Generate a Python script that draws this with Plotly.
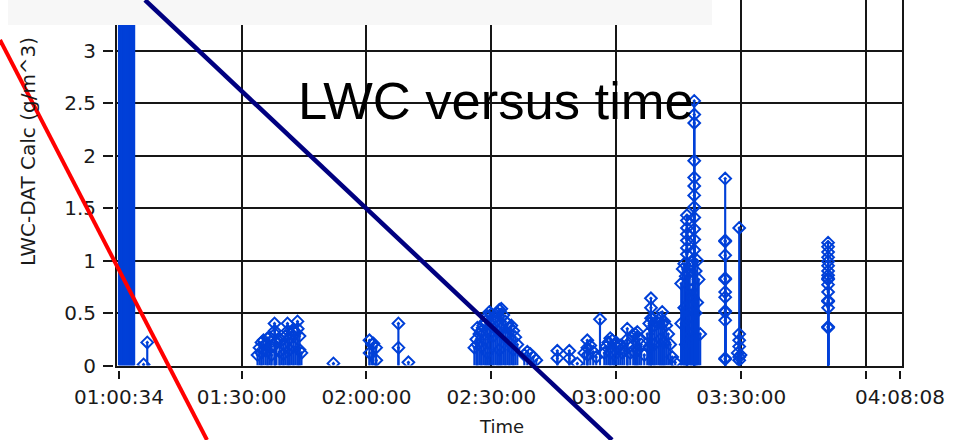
import plotly.graph_objects as go

# ---- data: LWC-DAT calculated liquid water content (g/m^3) against time ----
times = [
    # instrument start-up block (off scale)
    "01:00:34", "01:00:44", "01:00:54", "01:01:04", "01:01:14", "01:01:24",
    "01:01:34", "01:01:44", "01:01:54", "01:02:04", "01:02:14", "01:02:24",
    "01:02:34", "01:02:44", "01:02:54", "01:03:04", "01:03:14", "01:03:24",
    "01:03:34", "01:03:44", "01:03:54", "01:04:04", "01:04:12",
    "01:06:28", "01:07:21",
    # first cloud pass
    "01:33:50", "01:34:19", "01:34:47", "01:35:16", "01:35:45", "01:36:14",
    "01:36:43", "01:37:11", "01:37:55", "01:37:58", "01:38:02", "01:38:23",
    "01:39:07", "01:39:35", "01:40:04", "01:40:33", "01:41:02", "01:41:05",
    "01:41:31", "01:41:59", "01:42:28", "01:42:57", "01:43:26", "01:43:29",
    "01:43:55", "01:44:23",
    "01:34:47", "01:36:14", "01:37:11", "01:39:07", "01:40:04", "01:41:31",
    "01:42:28", "01:43:55",
    "01:52:04",
    "02:00:43", "02:00:45", "02:01:21", "02:01:40", "02:02:19", "02:02:21",
    "02:07:40", "02:07:41", "02:10:04",
    # second cloud pass
    "02:25:55", "02:26:23", "02:26:38", "02:27:07", "02:27:35", "02:28:04",
    "02:28:33", "02:29:02", "02:29:31", "02:29:59", "02:30:28", "02:30:57",
    "02:31:26", "02:31:55", "02:32:23", "02:32:52", "02:33:21", "02:33:50",
    "02:34:19", "02:34:47", "02:35:16", "02:35:45", "02:36:14",
    "02:26:38", "02:27:35", "02:28:33", "02:29:31", "02:30:28", "02:31:26",
    "02:32:23", "02:33:21", "02:34:19", "02:35:16", "02:29:02", "02:31:55",
    "02:37:55", "02:38:38", "02:39:21", "02:40:04", "02:40:47",
    "02:45:50", "02:45:51", "02:48:43", "02:48:44", "02:50:38",
    "02:52:19", "02:53:02", "02:53:03", "02:53:04", "02:53:45", "02:54:28",
    "02:55:11", "02:56:05",
    "02:57:07", "02:57:35", "02:58:04", "02:58:33", "02:59:02", "02:59:31",
    "02:59:59", "03:00:28", "03:00:57", "03:01:26", "03:01:55",
    "03:02:38", "03:02:39", "03:02:40", "03:03:21", "03:04:04", "03:04:33",
    "03:05:02", "03:05:31", "03:05:59", "03:06:43", "03:07:26", "03:07:55",
    "03:08:19", "03:08:20", "03:08:21", "03:08:38", "03:09:07", "03:09:35",
    "03:10:04", "03:10:33", "03:11:02", "03:11:03", "03:11:31", "03:11:59",
    "03:12:28", "03:12:57", "03:13:26", "03:14:09",
    "02:58:33", "02:59:31", "03:04:33", "03:05:02", "03:07:55", "03:09:07",
    "03:10:33", "03:11:31",
    # main cloud
    "03:15:35", "03:15:57", "03:16:19", "03:16:40",
    "03:16:58", "03:16:58", "03:16:58", "03:16:58", "03:16:58", "03:16:58",
    "03:16:58",
    "03:17:16", "03:17:38", "03:17:59", "03:18:21",
    "03:18:43", "03:18:43", "03:18:43", "03:18:43", "03:18:43", "03:18:43",
    "03:18:43", "03:18:43", "03:18:43", "03:18:43", "03:18:43", "03:18:43",
    "03:19:04", "03:19:26", "03:19:47", "03:20:09",
    "03:15:35", "03:16:19", "03:16:40", "03:17:16", "03:17:59", "03:18:21",
    "03:19:04", "03:19:26",
    "03:26:09", "03:26:09", "03:26:09", "03:26:09", "03:26:09", "03:26:09",
    "03:26:09", "03:26:09", "03:26:09", "03:26:09", "03:26:09", "03:26:09",
    "03:26:09",
    "03:29:10", "03:29:31", "03:29:31", "03:29:31", "03:29:31", "03:29:31",
    "03:29:31", "03:29:50",
    "03:50:52", "03:50:52", "03:50:52", "03:50:52", "03:50:52", "03:50:52",
    "03:50:52", "03:50:52", "03:50:52", "03:50:52", "03:50:52", "03:50:52",
    "03:50:52", "03:50:52", "03:50:52", "03:50:52", "03:50:52",
]

lwc = [
    4.8, 5.2, 5.6, 6.0, 6.3, 5.7,
    5.1, 4.7, 4.4, 5.0, 5.9, 6.4,
    6.8, 6.0, 5.2, 4.9, 4.6, 4.2,
    3.9, 4.0, 4.1, 3.9, 3.8,
    0.01, 0.22,
    0.10, 0.17, 0.22, 0.24, 0.20, 0.26,
    0.27, 0.18, 0.40, 0.33, 0.30, 0.22,
    0.25, 0.24, 0.20, 0.28, 0.40, 0.33,
    0.26, 0.30, 0.33, 0.31, 0.42, 0.35,
    0.28, 0.12,
    0.12, 0.14, 0.10, 0.13, 0.11, 0.15,
    0.18, 0.15,
    0.02,
    0.24, 0.12, 0.20, 0.21, 0.17, 0.05,
    0.40, 0.17, 0.03,
    0.17, 0.25, 0.36, 0.30, 0.33, 0.38,
    0.42, 0.47, 0.51, 0.49, 0.44, 0.46,
    0.50, 0.53, 0.54, 0.48, 0.42, 0.40,
    0.36, 0.38, 0.33, 0.27, 0.20,
    0.20, 0.18, 0.25, 0.30, 0.28, 0.33,
    0.36, 0.27, 0.22, 0.15, 0.12, 0.15,
    0.10, 0.13, 0.11, 0.08, 0.05,
    0.14, 0.07, 0.14, 0.07, 0.02,
    0.12, 0.24, 0.17, 0.10, 0.19, 0.13,
    0.08, 0.44,
    0.12, 0.18, 0.22, 0.26, 0.24, 0.20,
    0.22, 0.17, 0.19, 0.12, 0.14,
    0.35, 0.25, 0.20, 0.12, 0.28, 0.30,
    0.32, 0.25, 0.20, 0.10, 0.30, 0.40,
    0.64, 0.55, 0.45, 0.45, 0.38, 0.42,
    0.40, 0.45, 0.51, 0.40, 0.42, 0.38,
    0.30, 0.20, 0.08, 0.03,
    0.12, 0.10, 0.12, 0.15, 0.18, 0.20,
    0.25, 0.22,
    0.78, 0.92, 0.97, 0.85,
    1.43, 1.38, 1.31, 1.25, 1.19, 1.12,
    1.06,
    0.88, 0.95, 0.72, 0.99,
    2.52, 2.39, 2.31, 1.95, 1.79, 1.71,
    1.62, 1.51, 1.41, 1.30, 1.20, 1.10,
    0.90, 1.00, 0.82, 0.30,
    0.40, 0.55, 0.20, 0.45, 0.30, 0.65,
    0.50, 0.60,
    1.78, 1.19, 1.18, 1.05, 0.83, 0.82,
    0.70, 0.65, 0.52, 0.51, 0.43, 0.07,
    0.06,
    0.12, 1.31, 0.30, 0.24, 0.18, 0.08,
    0.05, 0.10,
    1.17, 1.13, 1.08, 1.03, 0.99, 0.95,
    0.90, 0.86, 0.83, 0.82, 0.77, 0.70,
    0.62, 0.61, 0.55, 0.37, 0.36,
]

x_grid = ["01:30:00", "02:00:00", "02:30:00", "03:00:00", "03:30:00", "04:00:00"]
x_ticks = ["01:00:34", "01:30:00", "02:00:00", "02:30:00", "03:00:00",
           "03:30:00", "04:00:00", "04:08:08"]
x_tick_text = ["01:00:34", "01:30:00", "02:00:00", "02:30:00", "03:00:00",
               "03:30:00", "", "04:08:08"]
y_grid = [0.5, 1.0, 1.5, 2.0, 2.5, 3.0]
y_ticks = [0, 0.5, 1, 1.5, 2, 2.5, 3]
y_tick_text = ["0", "0.5", "1", "1.5", "2", "2.5", "3"]
x_range = ["01:00:05", "04:08:37"]

# ---- styling ----
W, H = 975, 440
DAY = "2000-01-01 "
BLUE = "#0040d8"
GRID = "#161616"
TICKFONT = dict(family="DejaVu Sans", size=20, color="#1a1a1a")
STEM_MS = 31000  # drop-line width on the date axis (~2 px)


def fx(p):
    return p / W


def fy(p):
    return 1 - p / H


X_DOM = [fx(117), fx(902)]
Y_DOM = [fy(365.5), 1.0]
Y_RANGE = [0, 365.5 / 105.0]
XR = [DAY + t for t in x_range]
x_dt = [DAY + t for t in times]

fig = go.Figure()
# vertical drop lines from zero to each sample
fig.add_trace(go.Bar(
    x=x_dt, y=lwc, width=STEM_MS, marker=dict(color=BLUE, line=dict(width=0)),
    showlegend=False, hoverinfo="skip",
))
# sample markers
fig.add_trace(go.Scatter(
    x=x_dt, y=lwc, mode="markers",
    marker=dict(symbol="diamond-open-dot", size=9, color=BLUE,
                line=dict(width=2, color=BLUE)),
    showlegend=False, hoverinfo="skip",
))
# empty trace so the offset tick axes (x2/y2) get drawn
fig.add_trace(go.Scatter(x=[], y=[], xaxis="x2", yaxis="y2",
                         showlegend=False, hoverinfo="skip"))

fig.update_layout(
    width=W, height=H, margin=dict(l=0, r=0, t=0, b=0),
    paper_bgcolor="white", plot_bgcolor="white", barmode="overlay",
    xaxis=dict(domain=X_DOM, range=XR, type="date",
               tickmode="array", tickvals=[DAY + t for t in x_grid],
               showticklabels=False, ticks="", showgrid=True,
               gridcolor=GRID, gridwidth=2, showline=True, linecolor=GRID,
               linewidth=2, zeroline=False, automargin=False),
    yaxis=dict(domain=Y_DOM, range=Y_RANGE, tickmode="array",
               tickvals=y_grid, showticklabels=False, ticks="",
               showgrid=True, gridcolor=GRID, gridwidth=2, showline=True,
               mirror=True, linecolor=GRID, linewidth=2, zeroline=False,
               automargin=False),
    xaxis2=dict(overlaying="x", anchor="free", position=fy(369.5),
                domain=X_DOM, range=XR, type="date", tickmode="array",
                tickvals=[DAY + t for t in x_ticks], ticktext=x_tick_text,
                ticks="outside", ticklen=8, tickwidth=2, tickcolor=GRID,
                tickfont=TICKFONT, showgrid=False, showline=False,
                zeroline=False, automargin=False, ticklabelstandoff=1),
    yaxis2=dict(overlaying="y", anchor="free", position=fx(113), side="left",
                domain=Y_DOM, range=Y_RANGE, tickmode="array",
                tickvals=y_ticks, ticktext=y_tick_text, ticks="outside",
                ticklen=10, tickwidth=2, tickcolor=GRID, tickfont=TICKFONT,
                showgrid=False, showline=False, zeroline=False,
                automargin=False, ticklabelstandoff=3),
)

fig.add_annotation(text="LWC versus time", x=fx(495.5), y=fy(100),
                   xref="paper", yref="paper", xanchor="center",
                   yanchor="middle", showarrow=False,
                   font=dict(family="Liberation Sans, Arial", size=52.5,
                             color="black"))
fig.add_annotation(text="Time", x=fx(501), y=fy(426), xref="paper",
                   yref="paper", xanchor="center", yanchor="middle",
                   showarrow=False,
                   font=dict(family="DejaVu Sans", size=18, color="#1a1a1a"))
fig.add_annotation(text="LWC-DAT Calc (g/m^3)", x=fx(28), y=fy(152),
                   xref="paper", yref="paper", xanchor="center",
                   yanchor="middle", textangle=-90, showarrow=False,
                   font=dict(family="DejaVu Sans", size=20, color="#1a1a1a"))

# header strip and the two diagonal overlay strokes
fig.add_shape(type="rect", xref="paper", yref="paper",
              x0=fx(8), x1=fx(712), y0=fy(25), y1=fy(0),
              fillcolor="#f7f7f7", line=dict(width=0), layer="above")
fig.add_shape(type="line", xref="paper", yref="paper",
              x0=fx(0), y0=fy(40), x1=fx(207), y1=fy(440),
              line=dict(color="#ff0000", width=4), layer="above")
fig.add_shape(type="line", xref="paper", yref="paper",
              x0=fx(145), y0=fy(0), x1=fx(612), y1=fy(440),
              line=dict(color="#000080", width=4.5), layer="above")

fig.write_html("out.html")
